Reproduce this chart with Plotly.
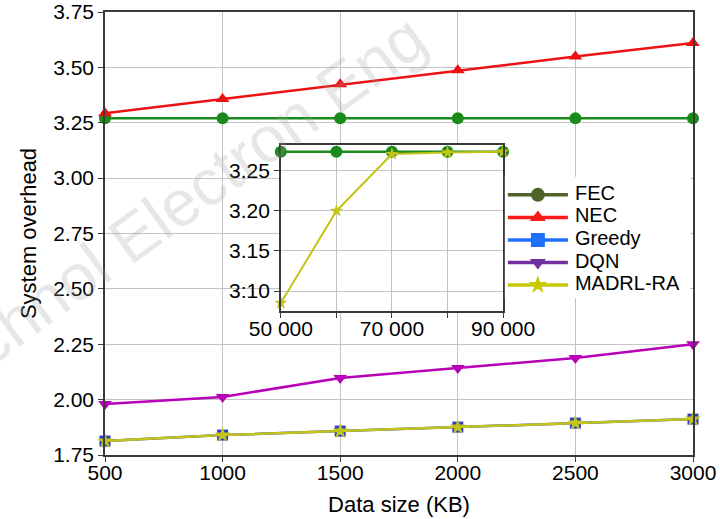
import plotly.graph_objects as go

# ---- data ----
data_size = [500, 1000, 1500, 2000, 2500, 3000]
fec = [3.27, 3.27, 3.27, 3.27, 3.27, 3.27]
nec = [3.293, 3.357, 3.424, 3.487, 3.549, 3.610]
greedy = [1.813, 1.840, 1.858, 1.876, 1.894, 1.912]
dqn = [1.980, 2.012, 2.098, 2.143, 2.188, 2.250]
madrl = [1.813, 1.840, 1.858, 1.876, 1.894, 1.912]

inset_x = [50000, 60000, 70000, 80000, 90000]
inset_fec = [3.274, 3.274, 3.274, 3.274, 3.274]
inset_madrl = [3.085, 3.200, 3.271, 3.273, 3.274]

main_yticks = [1.75, 2.00, 2.25, 2.50, 2.75, 3.00, 3.25, 3.50, 3.75]
inset_xtick_text = ["50 000", "", "70 000", "", "90 000"]
inset_yticks = [3.10, 3.15, 3.20, 3.25]
inset_ytick_text = ["3:10", "3.15", "3.20", "3.25"]

names = ["FEC", "NEC", "Greedy", "DQN", "MADRL-RA"]
plot_colors = ["#1a8a1a", "#ee1111", "#2a3fc8", "#b800b8", "#c4c418"]
legend_colors = ["#4f6228", "#ff1a1a", "#1f70ff", "#7030a0", "#c8c800"]
symbols = ["circle", "triangle-up", "square", "triangle-down", "star"]

FONT = "Liberation Sans, Arial, sans-serif"

fig = go.Figure()

series = [fec, nec, greedy, dqn, madrl]
for name, ys, col, sym in zip(names, series, plot_colors, symbols):
    fig.add_trace(go.Scatter(
        x=data_size, y=ys, mode="lines+markers", name=name, showlegend=False,
        line=dict(color=col, width=2.5),
        marker=dict(symbol=sym, size=12 if sym != "square" else 11, color=col,
                    line=dict(width=0)),
        cliponaxis=False, xaxis="x", yaxis="y"))

# inset
fig.add_trace(go.Scatter(
    x=inset_x, y=inset_fec, mode="lines+markers", showlegend=False,
    line=dict(color=plot_colors[0], width=2.5),
    marker=dict(symbol="circle", size=12, color=plot_colors[0]),
    cliponaxis=False, xaxis="x2", yaxis="y2"))
fig.add_trace(go.Scatter(
    x=inset_x, y=inset_madrl, mode="lines+markers", showlegend=False,
    line=dict(color=plot_colors[4], width=2),
    marker=dict(symbol="star", size=10, color=plot_colors[4]),
    cliponaxis=False, xaxis="x2", yaxis="y2"))

# legend drawn in its own small white panel (legend colours differ from plotted ones)
rows = list(range(len(names)))
for i, (name, col, sym) in enumerate(zip(names, legend_colors, symbols)):
    fig.add_trace(go.Scatter(
        x=[3, 63], y=[rows[i], rows[i]], mode="lines", showlegend=False,
        line=dict(color=col, width=3.5), hoverinfo="skip",
        xaxis="x3", yaxis="y3"))
    fig.add_trace(go.Scatter(
        x=[33], y=[rows[i]], mode="markers", showlegend=False,
        marker=dict(symbol=sym, size=14, color=col), hoverinfo="skip",
        xaxis="x3", yaxis="y3"))
fig.add_trace(go.Scatter(
    x=[70] * len(names), y=rows, mode="text", text=names, textposition="middle right",
    textfont=dict(family=FONT, size=20, color="black"), showlegend=False,
    hoverinfo="skip", cliponaxis=False, xaxis="x3", yaxis="y3"))

axis_common = dict(showline=True, linecolor="#3a3a3a", linewidth=1.5, mirror=True,
                   showgrid=True, gridcolor="#c4c4c4", gridwidth=1,
                   ticks="outside", ticklen=5, tickcolor="#3a3a3a", automargin=False,
                   zeroline=False, tickfont=dict(family=FONT, size=21, color="black"))

hidden = dict(visible=False, showgrid=False, zeroline=False, fixedrange=True)

fig.update_layout(
    width=720, height=519,
    margin=dict(l=105, r=27, t=12, b=64),
    paper_bgcolor="white", plot_bgcolor="white",
    font=dict(family=FONT, color="black"),
    xaxis=dict(domain=[0, 1], range=[500, 3000], tickvals=data_size, ticklabelstandoff=-7,
               title=dict(text="Data size (KB)", font=dict(family=FONT, size=22), standoff=14),
               **axis_common),
    yaxis=dict(domain=[0, 1], range=[1.75, 3.75], tickvals=main_yticks, tickformat=".2f",
               title=dict(text="System overhead", font=dict(family=FONT, size=22), standoff=10),
               **axis_common),
    xaxis2=dict(domain=[0.299, 0.677], range=[50000, 90000], anchor="y2",
                ticklabelstandoff=-7,
                tickvals=inset_x, ticktext=inset_xtick_text, **axis_common),
    yaxis2=dict(domain=[0.325, 0.700], range=[3.075, 3.2825], anchor="x2",
                tickvals=inset_yticks, ticktext=inset_ytick_text, **axis_common),
    xaxis3=dict(domain=[0.680, 0.995], range=[0, 185], anchor="y3", **hidden),
    yaxis3=dict(domain=[0.354, 0.628], range=[4.58, -0.8], anchor="x3", **hidden),
    showlegend=False,
)

# journal watermark (partly outside the page, as in the source image)
fig.add_annotation(text="Technol Electron Eng", xref="paper", yref="paper",
                   x=0.108, y=0.553, xanchor="center", yanchor="middle",
                   showarrow=False, textangle=-36,
                   font=dict(family=FONT, size=65, color="rgba(160,160,160,0.25)"))

fig.write_html("out.html")
